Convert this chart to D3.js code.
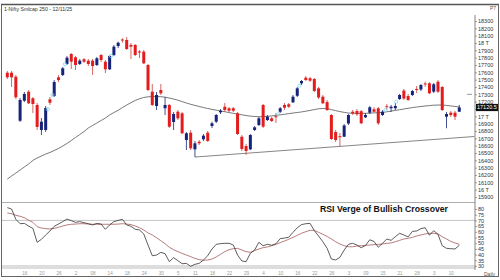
<html>
<head>
<style>
  body { margin: 0; background: #fff; }
  text { font-family: "Liberation Sans", Arial, sans-serif; }
</style>
</head>
<body>
<script src="https://d3js.org/d3.v7.min.js"></script>
<script>
var width = 500, height = 280;

// daily candles, Nifty Smallcap 250
var opens = [17595,17595,17540,16940,17213,17336,17246,17155,16814,16814,
  17232,17277,17532,17564,17714,17850,17805,17714,17778,17759,
  17759,17700,17836,17745,17641,17836,17959,18048,18041,17973,
  17973,17884,17881,17700,17336,17141,17359,17110,17155,16923,
  17063,17041,16677,16777,16550,16654,16687,16777,16868,16927,
  17055,17131,17110,17110,17041,16722,16595,16550,16814,16882,
  17155,16950,16973,17002,17063,17155,17164,17191,17280,17450,
  17527,17519,17509,17382,17268,17195,17018,16786,16729,16722,
  16902,17063,17073,17070,16987,17050,17096,17110,17018,17138,
  17110,17110,17236,17352,17277,17291,17373,17366,17448,17450,
  17336,17472,17400,16995,17050,17050,17063];
var highs = [17618,17618,17564,17250,17332,17359,17264,17182,16977,17141,
  17264,17495,17564,17673,17823,17864,17823,17782,17795,17782,
  17782,17809,17850,17768,17836,17973,18018,18064,18082,18000,
  17986,17905,17905,17714,17441,17332,17441,17264,17168,17059,
  17086,17059,16786,16814,16664,16677,16759,16800,16927,17032,
  17100,17182,17127,17127,17059,16745,16623,16759,16868,16991,
  17168,17018,16991,17045,17127,17182,17182,17291,17400,17495,
  17550,17536,17523,17400,17291,17223,17032,16814,16773,16895,
  17032,17086,17100,17086,17045,17141,17127,17127,17086,17168,
  17155,17182,17305,17373,17305,17359,17414,17441,17472,17468,
  17455,17495,17414,17059,17073,17073,17155];
var lows = [17509,17400,17236,16923,17195,17168,17045,16814,16745,16786,
  17155,17264,17468,17550,17700,17645,17632,17700,17727,17686,
  17564,17686,17741,17591,17632,17823,17932,18004,17905,17782,
  17823,17795,17714,17345,17141,17086,17291,17018,16841,16814,
  16950,16759,16541,16541,16445,16609,16664,16650,16841,16909,
  17032,17059,17059,17059,16745,16527,16473,16541,16800,16868,
  16841,16936,16923,16909,17045,17086,17114,17182,17264,17427,
  17482,17468,17332,17236,17168,17073,16677,16650,16586,16718,
  16882,17018,17005,16895,16977,17032,17059,16882,17005,17086,
  17059,17086,17223,17223,17209,17277,17318,17345,17400,17305,
  17318,17318,17073,16837,16991,16950,17059];
var closes = [17532,17532,17260,17223,17305,17178,17168,16855,16927,17114,
  17186,17468,17495,17655,17800,17745,17700,17759,17745,17714,
  17686,17791,17768,17641,17823,17950,18004,18034,17918,17950,
  17836,17870,17723,17359,17155,17291,17314,17155,16859,17032,
  16973,16769,16769,16564,16632,16632,16736,16664,16905,17018,
  17077,17086,17077,17077,16759,16555,16527,16745,16850,16973,
  16859,16995,16936,16988,17110,17118,17131,17268,17382,17482,
  17495,17486,17345,17257,17178,17086,16691,16677,16715,16875,
  17018,17041,17028,16905,17018,17123,17063,16905,17063,17125,
  17131,17141,17291,17243,17223,17345,17359,17427,17434,17314,
  17437,17336,17086,17032,17018,16995,17120.5];

// moving average
var movingAvg = [16145,16186,16227,16268,16309,16350,16398,16432,16459,16486,
  16507,16534,16561,16595,16630,16670,16711,16752,16793,16841,
  16875,16909,16943,16977,17018,17052,17082,17120,17154,17186,
  17216,17240,17257,17266,17270,17270,17268,17261,17250,17236,
  17220,17201,17182,17164,17149,17134,17120,17107,17095,17084,
  17073,17063,17052,17041,17032,17021,17011,17003,16998,16995,
  16996,17000,17006,17013,17020,17028,17036,17045,17052,17060,
  17070,17081,17092,17103,17107,17103,17092,17078,17065,17054,
  17045,17041,17040,17040,17041,17044,17047,17050,17054,17062,
  17071,17081,17090,17100,17110,17119,17127,17134,17141,17146,
  17152,17154,17154,17149,17142,17135,17127];

var rsi = [81.2,80.0,71.0,67.1,67.4,65.0,63.0,50.8,53.4,57.2,
  60.7,64.8,66.8,68.9,71.2,69.8,68.3,68.9,68.0,67.1,
  66.0,67.4,66.8,62.2,66.0,68.9,70.0,70.9,66.0,64.8,
  62.2,61.6,58.1,48.4,39.0,39.6,42.0,40.8,33.8,37.3,
  34.7,32.0,32.3,29.7,31.5,32.3,35.3,39.0,44.9,49.0,
  49.6,49.9,49.9,48.4,39.6,34.4,33.8,41.1,44.0,50.8,
  47.8,49.0,48.2,49.5,54.0,54.5,55.2,59.5,63.5,66.3,
  67.1,67.4,61.0,56.3,51.3,45.5,36.1,35.3,37.6,44.0,
  49.0,49.9,48.4,46.0,48.0,53.0,51.5,46.5,49.9,53.7,
  52.5,55.7,58.7,57.2,55.5,60.4,60.7,62.8,63.6,57.0,
  61.0,57.8,47.8,45.5,45.2,44.9,48.2];
var rsiSignal = [76.5,75.9,74.5,73.6,72.4,70.1,68.3,64.5,63.3,62.8,
  62.5,63.0,63.9,65.1,66.0,66.6,66.8,67.1,67.1,66.8,
  66.6,66.6,66.6,66.6,66.6,66.6,66.8,67.1,66.8,66.3,
  65.1,63.6,61.6,59.0,57.2,54.8,52.2,49.6,46.4,44.3,
  42.6,41.1,39.6,38.2,36.7,35.6,35.0,35.3,36.1,37.9,
  40.2,42.6,44.3,45.2,45.5,44.0,42.6,42.0,43.5,44.9,
  46.1,46.7,47.8,49.0,50.5,51.9,53.4,55.1,56.9,58.7,
  60.1,61.3,61.3,59.5,57.8,56.0,53.7,51.3,49.3,47.8,
  46.9,46.9,47.5,47.8,48.1,48.4,48.7,49.0,49.3,49.9,
  50.2,51.3,52.5,53.7,54.3,55.1,56.3,57.2,58.1,58.7,
  58.7,58.1,55.7,53.7,51.6,50.2,49.0];

// rising support line, candle index -> price
var trendLine = [{i: 44, p: 16445}, {i: 109.5, p: 16725}];
// small cyan gap markers
var gapMarks = [{i: 9.5, p: 17096}, {i: 10.6, p: 17291}, {i: 13.5, p: 17710}, {i: 24.3, p: 17823},
  {i: 63.5, p: 17028}, {i: 68.5, p: 17418}, {i: 88.7, p: 17086}, {i: 91.2, p: 17200}];

var priceTicks = [15900,16000,16100,16200,16300,16400,16500,16600,16700,16800,16900,17000,
  17100,17200,17300,17400,17500,17600,17700,17800,17900,18000,18100,18200,18300];
var rsiTicks = [30,35,40,45,50,55,60,65,70,75,80];
var dateLabels = ["16","20","26","2","08","14","18","24","30","5","11","18","22",
  "29","4","10","16","22","26","3","09","15","21","28","3","10"];
var lastPrice = 17120.5;

var red = "#e41c1c", blue = "#16237a";

var svg = d3.select("body").append("svg")
    .attr("width", width)
    .attr("height", height)
    .style("display", "block");

svg.append("rect").attr("width", width).attr("height", height).attr("fill", "#fff");

var x = d3.scaleLinear().domain([0, opens.length - 1]).range([7.3, 459.3]);
var yP = d3.scaleLinear().domain([15900, 18300]).range([197, 21]);
var yR = d3.scaleLinear().domain([30, 80]).range([266, 209]);
var axisX = 475;

// frame
svg.append("rect").attr("x", 1.5).attr("y", 4.5).attr("width", 497).attr("height", 272)
    .attr("fill", "none").attr("stroke", "#666").attr("stroke-width", 1);
svg.append("line").attr("x1", 1).attr("x2", 499).attr("y1", 4.5).attr("y2", 4.5)
    .attr("stroke", "#555").attr("stroke-width", 1.6);

svg.append("text").attr("x", 4).attr("y", 10.5).attr("font-size", 5.2).attr("fill", "#333")
    .text("1-Nifty Smlcap 250 - 12/11/25");
svg.append("text").attr("x", 490).attr("y", 10).attr("font-size", 5).attr("fill", "#555").text("P7");

// panel lines
svg.append("line").attr("x1", 2).attr("x2", axisX).attr("y1", 202.5).attr("y2", 202.5)
    .attr("stroke", "#999").attr("stroke-width", 0.8);
svg.append("line").attr("x1", 2).attr("x2", axisX).attr("y1", yR(70)).attr("y2", yR(70))
    .attr("stroke", "#aaa").attr("stroke-width", 0.7);
svg.append("line").attr("x1", 2).attr("x2", axisX).attr("y1", yR(30)).attr("y2", yR(30))
    .attr("stroke", "#bbb").attr("stroke-width", 1);
svg.append("line").attr("x1", 2).attr("x2", axisX).attr("y1", yR(30) + 2).attr("y2", yR(30) + 2)
    .attr("stroke", "#ddd").attr("stroke-width", 2);

// moving average and support line
var maLine = d3.line().x(function(d, i) { return x(i); }).y(function(d) { return yP(d); }).curve(d3.curveMonotoneX);
svg.append("path").attr("d", maLine(movingAvg)).attr("fill", "none")
    .attr("stroke", "#555").attr("stroke-width", 0.8);

svg.append("path")
    .attr("d", d3.line().x(function(d) { return x(d.i); }).y(function(d) { return yP(d.p); })(trendLine))
    .attr("fill", "none").attr("stroke", "#666").attr("stroke-width", 0.8);

// candles
var candles = opens.map(function(o, i) {
  return {i: i, o: o, h: highs[i], l: lows[i], c: closes[i]};
});
var cg = svg.append("g").selectAll("g").data(candles).enter().append("g");
cg.append("line")
    .attr("x1", function(d) { return x(d.i); })
    .attr("x2", function(d) { return x(d.i); })
    .attr("y1", function(d) { return yP(d.h); })
    .attr("y2", function(d) { return yP(d.l); })
    .attr("stroke", function(d) { return d.c >= d.o ? blue : "#c84040"; })
    .attr("stroke-width", 0.8);
cg.append("rect")
    .attr("x", function(d) { return x(d.i) - 1.5; })
    .attr("width", 3)
    .attr("y", function(d) { return yP(Math.max(d.o, d.c)); })
    .attr("height", function(d) { return Math.max(0.9, Math.abs(yP(d.o) - yP(d.c))); })
    .attr("fill", function(d) { return d.c >= d.o ? blue : red; });

svg.append("g").selectAll("circle").data(gapMarks).enter().append("circle")
    .attr("cx", function(d) { return x(d.i); })
    .attr("cy", function(d) { return yP(d.p); })
    .attr("r", 1.6)
    .attr("fill", "none").attr("stroke", "#7fd6ee").attr("stroke-width", 0.8);

// RSI
var rLine = d3.line().x(function(d, i) { return x(i); }).y(function(d) { return yR(d); });
svg.append("path").attr("d", rLine(rsiSignal)).attr("fill", "none")
    .attr("stroke", "#a45a5a").attr("stroke-width", 0.8);
svg.append("path").attr("d", rLine(rsi)).attr("fill", "none")
    .attr("stroke", "#333").attr("stroke-width", 0.8);

svg.append("text").attr("x", 320).attr("y", 211.5)
    .attr("font-family", "'Open Sans', sans-serif").attr("font-weight", "bold")
    .attr("font-size", 8.5).attr("fill", "#111")
    .attr("textLength", 128).attr("lengthAdjust", "spacingAndGlyphs")
    .text("RSI Verge of Bullish Crossover");

// right axes
svg.append("line").attr("x1", axisX).attr("x2", axisX).attr("y1", 15).attr("y2", 270)
    .attr("stroke", "#666").attr("stroke-width", 0.8);

function styleAxis(g) {
  g.select(".domain").remove();
  g.selectAll(".tick line").attr("stroke", "#666").attr("stroke-width", 0.6);
  g.selectAll(".tick text").attr("font-size", 5.5).attr("fill", "#333")
      .attr("font-family", "'Liberation Sans', sans-serif");
}

// the 17100 label sits under the last-price tag, so it stays blank
svg.append("g").attr("transform", "translate(" + axisX + ",0)")
    .call(d3.axisRight(yP).tickValues(priceTicks).tickSize(2).tickPadding(1)
      .tickFormat(function(v) {
        if (Math.abs(v - lastPrice) < 50) return "";
        return v % 1000 === 0 ? (v / 1000) + " T" : v;
      }))
    .call(styleAxis);

svg.append("g").attr("transform", "translate(" + axisX + ",0)")
    .call(d3.axisRight(yR).tickValues(rsiTicks).tickSize(2).tickPadding(1))
    .call(styleAxis);

svg.append("line").attr("x1", 467).attr("x2", 472).attr("y1", yP(17300)).attr("y2", yP(17300))
    .attr("stroke", "#666").attr("stroke-width", 0.7);

// last price tag
svg.append("rect").attr("x", axisX + 1).attr("y", yP(lastPrice) - 3.6)
    .attr("width", 22).attr("height", 7.2).attr("fill", "#111");
svg.append("text").attr("x", axisX + 2).attr("y", yP(lastPrice) + 2)
    .attr("font-size", 5.5).attr("fill", "#fff").text(lastPrice);

// date axis
var dateIdx = d3.range(4, opens.length, 4);
svg.append("g").attr("transform", "translate(0,271)")
    .call(d3.axisBottom(x).tickValues(dateIdx).tickSize(0).tickPadding(1)
      .tickFormat(function(d, k) { return dateLabels[k]; }))
    .call(function(g) {
      g.select(".domain").remove();
      g.selectAll(".tick text").attr("font-size", 4.6).attr("fill", "#999");
    });

svg.append("text").attr("x", 484).attr("y", 276).attr("font-size", 5).attr("fill", "#555").text("Daily");
</script>
</body>
</html>
